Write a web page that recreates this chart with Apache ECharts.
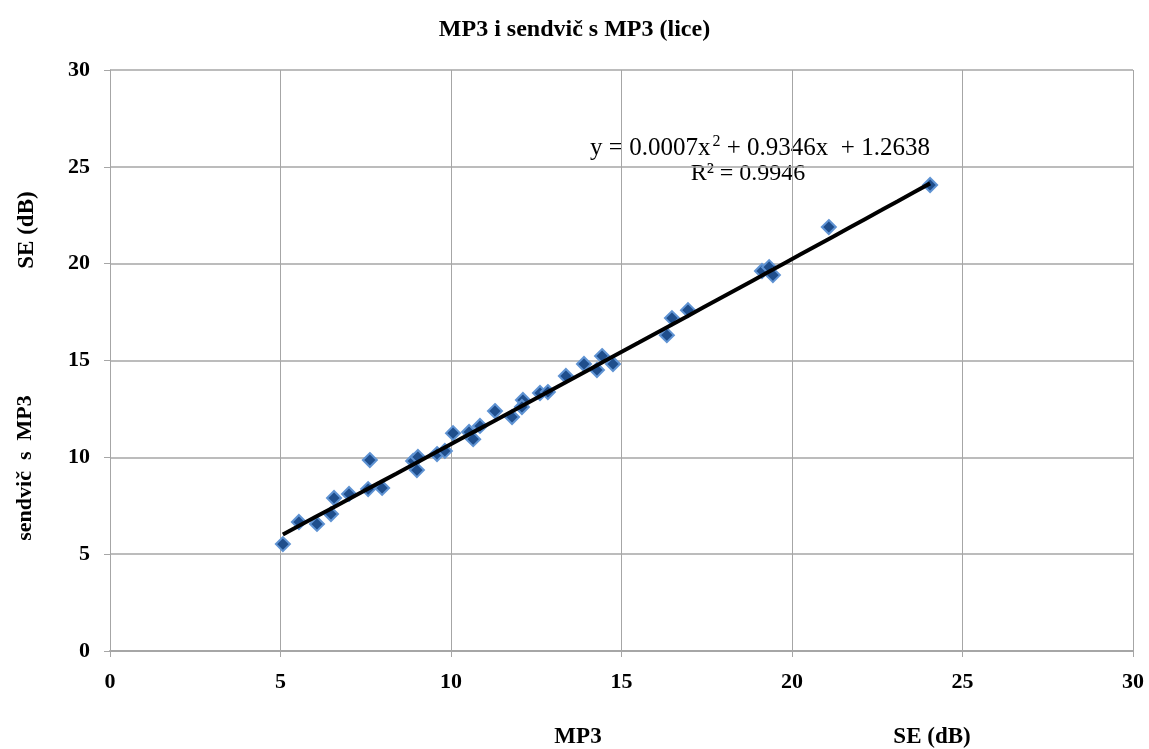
<!DOCTYPE html>
<html><head><meta charset="utf-8">
<script src="https://cdn.jsdelivr.net/npm/echarts@6/dist/echarts.min.js"></script>
<style>html,body{margin:0;padding:0;background:#fff}#c{width:1149px;height:749px}</style>
</head><body><div id="c"></div>
<script>
const mp3 = [5.07,5.54,6.07,6.48,6.57,7.01,7.57,7.62,7.98,8.89,9.00,9.03,9.59,9.82,10.06,10.53,10.65,10.85,11.29,11.79,12.11,12.08,12.61,12.84,13.37,13.90,14.28,14.43,14.75,16.33,16.48,16.95,19.12,19.33,19.44,21.08,24.05];
const sandwich = [5.52,6.66,6.56,7.07,7.90,8.11,8.36,9.86,8.42,9.81,9.34,10.02,10.17,10.33,11.25,11.31,10.94,11.62,12.39,12.08,12.96,12.60,13.32,13.37,14.20,14.82,14.51,15.23,14.82,16.31,17.19,17.60,19.62,19.82,19.41,21.89,24.06];
const trendCoef = [0.0007, 0.9346, 1.2638];
const titleText = 'MP3 i sendvič s MP3 (lice)';
const rText = 'R² = 0.9946';

const pts = mp3.map((x,i)=>[x, sandwich[i]]);
const xmin = Math.min(...mp3), xmax = Math.max(...mp3);
const trend = [];
for (let k=0;k<=40;k++){ const x = xmin + (xmax-xmin)*k/40; trend.push([x, trendCoef[0]*x*x + trendCoef[1]*x + trendCoef[2]]); }

const font = '"Liberation Serif","Times New Roman",serif';
const chart = echarts.init(document.getElementById('c'));
chart.setOption({
  animation:false,
  backgroundColor:'#fff',
  title:{text:titleText,left:'center',top:13,textStyle:{fontFamily:font,fontWeight:'bold',fontSize:24,color:'#000'}},
  grid:{left:110,right:16,top:70,bottom:98},
  xAxis:{type:'value',min:0,max:30,interval:5,
    axisLine:{show:true,onZero:false,lineStyle:{color:'#a6a6a6',width:2}},
    axisTick:{show:true,length:6,lineStyle:{color:'#a6a6a6'}},
    axisLabel:{fontFamily:font,fontWeight:'bold',fontSize:22,color:'#000',margin:20},
    splitLine:{show:true,lineStyle:{color:'#a6a6a6',width:1}}},
  yAxis:{type:'value',min:0,max:30,interval:5,
    axisLine:{show:true,lineStyle:{color:'#a6a6a6',width:1}},
    axisTick:{show:true,length:6,lineStyle:{color:'#a6a6a6'}},
    axisLabel:{fontFamily:font,fontWeight:'bold',fontSize:22,color:'#000',margin:20},
    splitLine:{show:true,lineStyle:{color:'#a6a6a6',width:1.5}}},
  graphic:[
    {type:'text',x:27,y:230,rotation:Math.PI/2,style:{text:'SE (dB)',fontFamily:font,fontWeight:'bold',fontSize:23,fill:'#000',align:'center',verticalAlign:'middle'}},
    {type:'text',x:25,y:468,rotation:Math.PI/2,style:{text:'sendvič  s  MP3',fontFamily:font,fontWeight:'bold',fontSize:22,fill:'#000',align:'center',verticalAlign:'middle'}},
    {type:'text',x:578,y:737,style:{text:'MP3',fontFamily:font,fontWeight:'bold',fontSize:23,fill:'#000',align:'center',verticalAlign:'middle'}},
    {type:'text',x:932,y:737,style:{text:'SE (dB)',fontFamily:font,fontWeight:'bold',fontSize:23,fill:'#000',align:'center',verticalAlign:'middle'}},
    {type:'text',x:760,y:148,style:{
      text:'{t|y = 0.0007x}{s|2}{t| + 0.9346x  + 1.2638}',
      align:'center',verticalAlign:'middle',
      rich:{t:{fontFamily:font,fontSize:25,fill:'#000'},s:{fontFamily:font,fontSize:16,fill:'#000',verticalAlign:'top',padding:[0,0,12,2]}}}},
    {type:'text',x:748,y:174,style:{text:rText,fontFamily:font,fontSize:24,fill:'#000',align:'center',verticalAlign:'middle'}}
  ],
  series:[
    {type:'scatter',data:pts,symbol:'diamond',symbolSize:14,z:2,
      itemStyle:{color:'#1F4E8C',borderColor:'#5F93D3',borderWidth:2,opacity:1}},
    {type:'line',data:trend,showSymbol:false,smooth:false,z:3,
      lineStyle:{color:'#000',width:4}}
  ]
});
</script></body></html>
